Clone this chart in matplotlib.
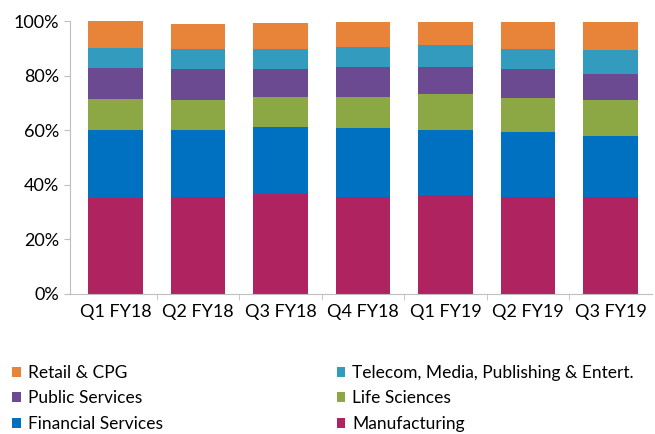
import numpy as np
import matplotlib
matplotlib.use("Agg")
import matplotlib.pyplot as plt
from matplotlib.ticker import PercentFormatter

quarters = ["Q1 FY18", "Q2 FY18", "Q3 FY18", "Q4 FY18", "Q1 FY19", "Q2 FY19", "Q3 FY19"]

# revenue share by vertical, % (bottom to top)
manufacturing = [35.2, 35.5, 36.7, 35.7, 36.4, 35.7, 35.7]
financial = [24.9, 24.7, 24.5, 25.1, 23.8, 23.6, 22.1]
life_sciences = [11.2, 11.0, 11.0, 11.4, 12.9, 12.5, 13.4]
public_services = [11.4, 11.2, 10.4, 11.0, 10.1, 10.8, 9.3]
telecom = [7.5, 7.2, 7.0, 7.4, 8.0, 7.0, 8.7]
retail = [9.8, 9.2, 9.8, 9.2, 8.6, 10.2, 10.6]

segments = [
    ("Manufacturing", manufacturing, "#AF2360"),
    ("Financial Services", financial, "#0070C0"),
    ("Life Sciences", life_sciences, "#8BA845"),
    ("Public Services", public_services, "#6B4A91"),
    ("Telecom, Media, Publishing & Entert.", telecom, "#329BBE"),
    ("Retail & CPG", retail, "#E8833A"),
]

plt.rcParams['font.family'] = ['Lato', 'DejaVu Sans']

fig = plt.figure(figsize=(6.55, 4.34), dpi=100)
ax = fig.add_axes([0.107, 0.3226, 0.888, 0.629])

x = np.arange(len(quarters))
bottom = np.zeros(len(quarters))
bars = {}
for name, vals, color in segments:
    vals = np.array(vals)
    bars[name] = ax.bar(x, vals, 0.66, bottom=bottom, color=color, label=name)
    bottom += vals

ax.set_xlim(-0.55, 6.5)
ax.set_ylim(0, 100)
ax.set_yticks(range(0, 101, 20))
ax.yaxis.set_major_formatter(PercentFormatter(decimals=0))
ax.set_xticks(x)
ax.set_xticklabels(quarters)
ax.set_xticks(x[:-1] + 0.5, minor=True)
ax.tick_params(axis='x', which='major', length=0, labelsize=13, pad=7)
ax.tick_params(axis='x', which='minor', length=4, color='#BFBFBF')
ax.tick_params(axis='y', length=4, color='#BFBFBF', labelsize=13, pad=4)

for side in ['top', 'right']:
    ax.spines[side].set_visible(False)
for side in ['left', 'bottom']:
    ax.spines[side].set_color('#BFBFBF')

order = ["Retail & CPG", "Public Services", "Financial Services",
         "Telecom, Media, Publishing & Entert.", "Life Sciences", "Manufacturing"]
fig.legend([bars[n] for n in order], order, ncol=2, loc='lower left',
           bbox_to_anchor=(-0.005, -0.031), frameon=False, fontsize=12.5,
           handlelength=0.5, handleheight=0.5, handletextpad=0.4,
           columnspacing=10.0, labelspacing=0.55)

fig.savefig("out.png", dpi=100)
